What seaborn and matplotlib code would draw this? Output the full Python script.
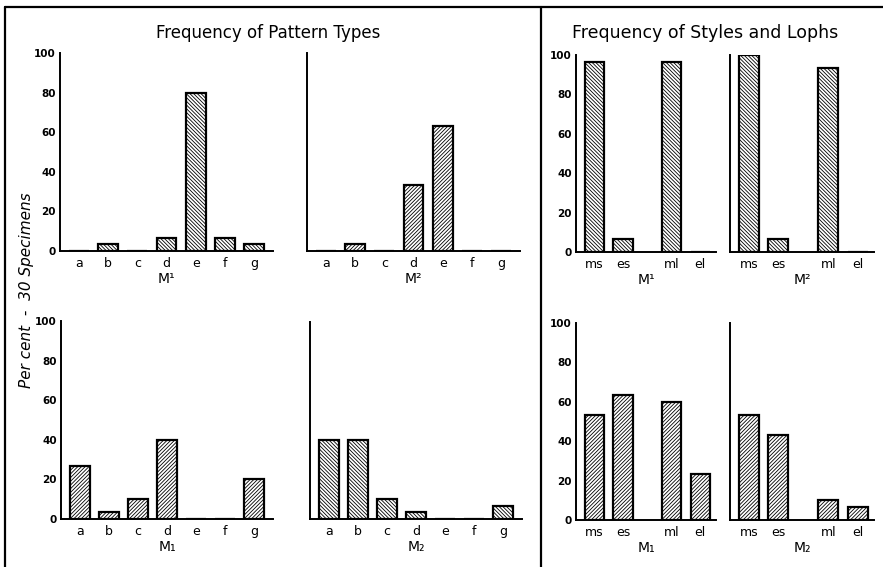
"""
Frequency of pattern types and of styles / lophs in upper and lower molars.
"""

import pandas as pd
import matplotlib.pyplot as plt
from matplotlib.lines import Line2D
import seaborn as sns

# ---------------------------------------------------------------------------
# Data (per cent of 30 specimens)
# ---------------------------------------------------------------------------
PATTERN_TYPES = ['a', 'b', 'c', 'd', 'e', 'f', 'g']
PAT_M1_UPPER = [0, 3.3, 0, 6.7, 80, 6.7, 3.3]
PAT_M2_UPPER = [0, 3.3, 0, 33.3, 63.3, 0, 0]
PAT_M1_LOWER = [26.7, 3.3, 10, 40, 0, 0, 20]
PAT_M2_LOWER = [40, 40, 10, 3.3, 0, 0, 6.7]

STYLE_TYPES = ['ms', 'es', 'ml', 'el']
STY_M1_UPPER = [96.7, 6.7, 96.7, 0]
STY_M2_UPPER = [100, 6.7, 93.3, 0]
STY_M1_LOWER = [53.3, 63.3, 60, 23.3]
STY_M2_LOWER = [53.3, 43.3, 10, 6.7]

Y_TICKS = [0, 20, 40, 60, 80, 100]

# ---------------------------------------------------------------------------
# Layout
# ---------------------------------------------------------------------------
W, H = 883, 567
DPI = 100
STYLE_POS = [0, 1, 2.7, 3.7]   # gap between styles and lophs
HATCH_A = '\\' * 9
HATCH_B = '/' * 9

sns.set_style('white')
plt.rcParams['font.family'] = ['DejaVu Sans']
plt.rcParams['hatch.linewidth'] = 0.6
for key in ['text.color', 'axes.labelcolor', 'xtick.color', 'ytick.color']:
    plt.rcParams[key] = 'black'


def px_axes(fig, x0, x1, ytop, ybot):
    """Add axes from pixel coordinates (y measured from top)."""
    return fig.add_axes([x0 / W, 1 - ybot / H, (x1 - x0) / W, (ybot - ytop) / H])


def draw_panel(ax, cats, vals, xlabel, hatch, show_y, xpos=None):
    if xpos is None:
        df = pd.DataFrame({'cat': cats, 'val': vals})
        sns.barplot(data=df, x='cat', y='val', order=cats, ax=ax, color='white',
                    saturation=1, errorbar=None, width=0.68, edgecolor='black',
                    linewidth=1.6, hatch=hatch)
        ax.set_xlim(-0.65, len(cats) - 0.35)
    else:
        df = pd.DataFrame({'pos': xpos, 'val': vals})
        sns.barplot(data=df, x='pos', y='val', native_scale=True, ax=ax,
                    color='white', saturation=1, errorbar=None, width=0.68,
                    edgecolor='black', linewidth=1.6, hatch=hatch)
        ax.set_xticks(xpos, cats)
        ax.set_xlim(-0.65, xpos[-1] + 0.55)
    ax.set_ylim(0, 100)
    ax.set_yticks(Y_TICKS)
    if show_y:
        ax.set_yticklabels([str(t) for t in Y_TICKS], fontsize=7.5,
                           fontweight='bold')
    else:
        ax.set_yticklabels([])
    ax.tick_params(axis='both', length=0)
    ax.tick_params(axis='y', pad=3)
    ax.tick_params(axis='x', pad=4, labelsize=9)
    ax.set_xlabel(xlabel, fontsize=10, labelpad=2)
    ax.set_ylabel('')
    sns.despine(ax=ax)
    for side in ['left', 'bottom']:
        ax.spines[side].set_linewidth(1.4)
        ax.spines[side].set_color('black')


fig = plt.figure(figsize=(W / DPI, H / DPI), dpi=DPI)

# pattern types
ax = px_axes(fig, 60, 273, 53, 251)
draw_panel(ax, PATTERN_TYPES, PAT_M1_UPPER, 'M¹', HATCH_A, True)
ax = px_axes(fig, 307, 520, 53, 251)
draw_panel(ax, PATTERN_TYPES, PAT_M2_UPPER, 'M²', HATCH_B, False)
ax = px_axes(fig, 61, 273, 321, 519)
draw_panel(ax, PATTERN_TYPES, PAT_M1_LOWER, 'M₁', HATCH_B, True)
ax = px_axes(fig, 310, 522, 322, 519)
draw_panel(ax, PATTERN_TYPES, PAT_M2_LOWER, 'M₂', HATCH_A, False)

# styles and lophs
ax = px_axes(fig, 576, 716, 55, 252)
draw_panel(ax, STYLE_TYPES, STY_M1_UPPER, 'M¹', HATCH_A, True, STYLE_POS)
ax = px_axes(fig, 730, 874, 55, 252)
draw_panel(ax, STYLE_TYPES, STY_M2_UPPER, 'M²', HATCH_A, False, STYLE_POS)
ax = px_axes(fig, 576, 716, 323, 520)
draw_panel(ax, STYLE_TYPES, STY_M1_LOWER, 'M₁', HATCH_B, True, STYLE_POS)
ax = px_axes(fig, 730, 874, 323, 520)
draw_panel(ax, STYLE_TYPES, STY_M2_LOWER, 'M₂', HATCH_B, False, STYLE_POS)

# titles and shared y label
fig.text(268 / W, 1 - 33 / H, 'Frequency of Pattern Types', ha='center',
         va='center', fontsize=12)
fig.text(705 / W, 1 - 33 / H, 'Frequency of Styles and Lophs', ha='center',
         va='center', fontsize=12.5)
fig.text(27 / W, 1 - 290 / H, 'Per cent  -  30 Specimens', ha='center',
         va='center', rotation=90, fontsize=11, style='italic')

# frame lines
frame = [((5, 5), (7, H)), ((5, W), (7, 7)), ((541, 541), (7, H))]
for xs, ys in frame:
    fig.add_artist(Line2D([x / W for x in xs], [1 - y / H for y in ys],
                          color='black', linewidth=1.6))

fig.savefig('out.png', dpi=DPI)
